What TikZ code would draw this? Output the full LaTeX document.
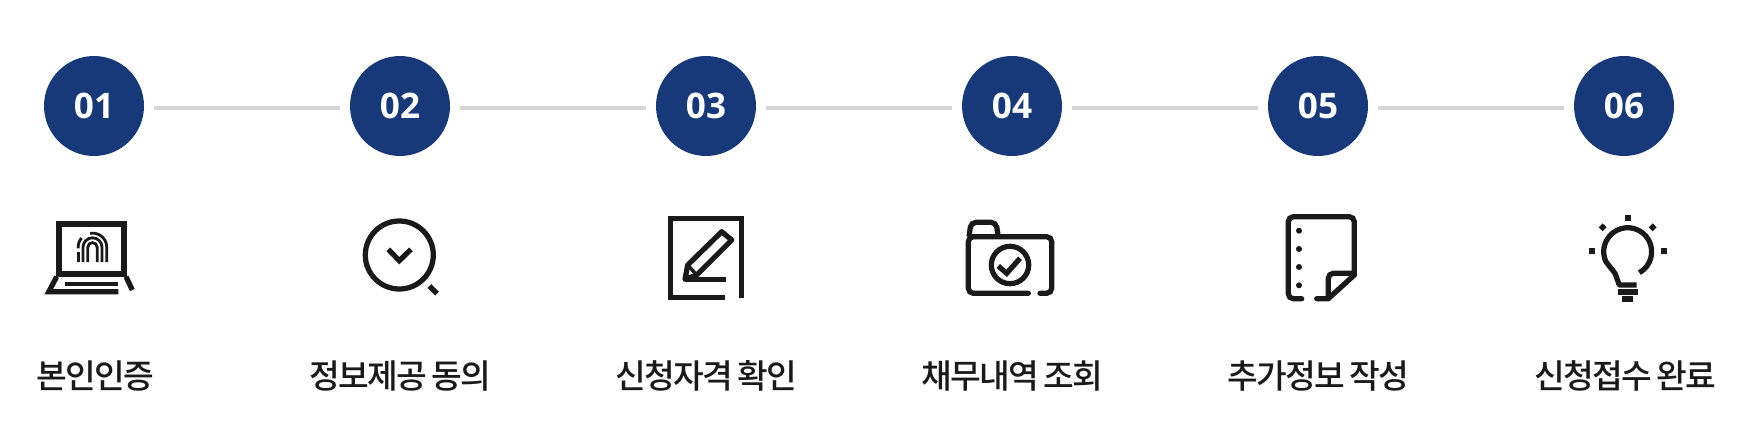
\documentclass[tikz,border=0pt]{standalone}
\usepackage{fontspec}
\setmainfont{Open Sans}
\newfontfamily\cjk[LetterSpace=-5,WordSpace=0.75,UprightFont=* Medium]{Noto Sans CJK KR}
\definecolor{stepblue}{HTML}{17397A}
\definecolor{linegray}{HTML}{D6D6D6}
\definecolor{icondark}{HTML}{1A1A1A}
\tikzset{
	stepdot/.style={circle, fill=stepblue, minimum size=2cm, inner sep=0pt, text=white, font=\fontsize{20}{20}\selectfont\bfseries},
	stepline/.style={linegray, line width=0.08cm, shorten <=0.2cm, shorten >=0.2cm},
	steplabel/.style={inner sep=0pt, text=icondark, font=\fontsize{19}{20}\selectfont\cjk},
	icon/.style={icondark, line width=0.105cm, line join=miter},
	soft/.style={icon, rounded corners=0.1cm},
}
\begin{document}
\begin{tikzpicture}[x=0.02cm, y=0.02cm]
	\useasboundingbox (0,0) rectangle (1744,-436);
	% steps
	\foreach \i/\x in {1/94, 2/400, 3/706, 4/1012, 5/1318, 6/1624}
		\node[stepdot] (step\i) at (\x,-106) {\raisebox{-0.02cm}{0\i}};
	\foreach \i/\j in {1/2, 2/3, 3/4, 4/5, 5/6}
		\draw[stepline] ([yshift=-0.04cm]step\i.east) -- ([yshift=-0.04cm]step\j.west);
	% labels
	\node[steplabel] (label1) at (95,-376) {본인인증};
	\node[steplabel] (label2) at (400.5,-376) {정보제공 동의};
	\node[steplabel] (label3) at (706.5,-376) {신청자격 확인};
	\node[steplabel] (label4) at (1012,-376) {채무내역 조회};
	\node[steplabel] (label5) at (1318,-376) {추가정보 작성};
	\node[steplabel] (label6) at (1625,-376) {신청접수 완료};
	% laptop
	\draw[icon, line width=0.11cm] (58.8,-224.2) rectangle (124.2,-274.2);
	\draw[icon] (56.7,-276.7) -- (48.8,-291.7) -- (118.3,-291.7);
	\draw[icon] (126,-276.7) -- (132.3,-290);
	\draw[icon, line width=0.08cm] (65,-284) -- (118.3,-284);
	\draw[icon, line width=0.056cm] (106.8,-262) -- (106.8,-247.3) arc[start angle=0, end angle=100, radius=14.3];
	\draw[icon, line width=0.056cm] (81.5,-238) arc[start angle=140, end angle=185, radius=14.3];
	\draw[icon, line width=0.056cm] (78.2,-252) -- (78.2,-262);
	\foreach \r in {9.5,4.7}
		\draw[icon, line width=0.056cm] (92.5+\r,-262) -- (92.5+\r,-247.3) arc[start angle=0, end angle=180, radius=\r] -- (92.5-\r,-262);
	% search
	\draw[icon] (399.3,-255) circle[radius=34];
	\draw[icon] (388.3,-249.3) -- (399.3,-260.7) -- (411,-249.3);
	\draw[icon] (429.3,-286) -- (437,-293.7);
	% form
	\draw[icon] (725,-297.3) -- (670.7,-297.3) -- (670.7,-218.3) -- (741.7,-218.3) -- (741.7,-298.3);
	\draw[icon, line join=round] (685,-279.3) -- (687.7,-265) -- (721.7,-231.7) -- (731.7,-240) -- (696.7,-275) -- cycle;
	\draw[icon, line width=0.07cm] (687.7,-265) -- (696.7,-275);
	\draw[icon] (685,-279.3) -- (726,-279.3);
	% folder
	\draw[soft] (969,-236.7) -- (971,-222.3) -- (996,-222.3) -- (998.3,-236.7);
	\draw[soft, line cap=round] (1028.3,-293.3) -- (968.3,-293.3) -- (968.3,-236.7) -- (1051.7,-236.7) -- (1051.7,-293.3) -- (1040,-293.3);
	\draw[icon] (1010,-265) circle[radius=18.7];
	\draw[icon] (998.3,-266) -- (1006.7,-273.3) -- (1020,-258.3);
	% note
	\draw[soft, line cap=round] (1301.7,-298.7) -- (1288.3,-298.7) -- (1288.3,-216.7) -- (1354.3,-216.7) -- (1354.3,-275);
	\draw[icon, line cap=round, line join=round] (1354.3,-275) -- (1328.3,-298.7) -- (1316.7,-298.7);
	\draw[soft] (1328.3,-298.7) -- (1328.3,-273.3) -- (1354.3,-273.3);
	\foreach \y in {230.7, 249, 267, 285.3}
		\fill[icondark] (1299,-\y) circle[radius=3];
	% bulb
	\draw[icon, line join=round] (1639.3,-272.7) arc[start angle=-61, end angle=204, radius=24] -- (1615,-273.3) -- (1619.3,-285) -- (1636.7,-285);
	\draw[icon] (1617.7,-292) -- (1638.3,-292);
	\draw[icon, line width=0.11cm] (1621.7,-299) -- (1633.3,-299);
	\foreach \x/\y in {1627.7/217.7, 1591.7/251, 1664/251}
		\fill[icondark] (\x-2.8,-\y-2.8) rectangle (\x+2.8,-\y+2.8);
	\foreach \x/\y in {1602.7/227.3, 1652.7/227.3}
		\fill[icondark, rotate around={45:(\x,-\y)}] (\x-2.8,-\y-2.8) rectangle (\x+2.8,-\y+2.8);
\end{tikzpicture}
\end{document}
